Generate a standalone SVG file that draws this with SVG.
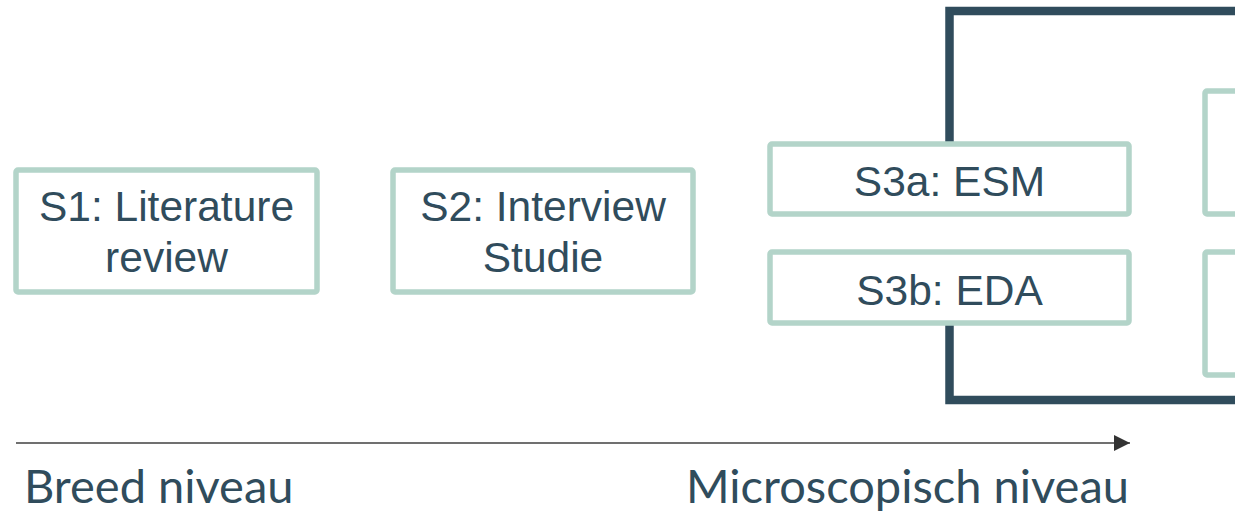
<svg xmlns="http://www.w3.org/2000/svg" width="1235" height="516" viewBox="0 0 1235 516">
  <style>
    .box { fill: #ffffff; stroke: #b3d4c9; stroke-width: 5.5; }
    .frame { fill: none; stroke: #304c5c; stroke-width: 8.5; }
    .lbl { font-family: "Liberation Sans", Arial, sans-serif; font-size: 42.5px; fill: #304c5c; text-anchor: middle; }
    .axis { font-family: Lato, "Open Sans", sans-serif; font-size: 47px; fill: #304c5c; }
  </style>
  <defs>
    <marker id="arrow" viewBox="0 0 10 10" refX="10" refY="5" markerWidth="16" markerHeight="16" markerUnits="userSpaceOnUse" orient="auto">
      <path d="M0,0 L10,5 L0,10 Z" fill="#333333"/>
    </marker>
  </defs>
  <g id="connectors">
    <path class="frame" d="M949.5,144 V11 H1270 M949.5,323 V400 H1270"/>
    <line x1="16" y1="443" x2="1130" y2="443" stroke="#404040" stroke-width="1.5" marker-end="url(#arrow)"/>
  </g>
  <g id="s1">
    <rect class="box" x="16" y="170" width="301" height="122" rx="2"/>
    <text class="lbl" x="166.5" y="221">S1: Literature</text>
    <text class="lbl" x="166.5" y="272">review</text>
  </g>
  <g id="s2">
    <rect class="box" x="393" y="170" width="300" height="122" rx="2"/>
    <text class="lbl" x="543" y="221">S2: Interview</text>
    <text class="lbl" x="543" y="272">Studie</text>
  </g>
  <g id="s3a">
    <rect class="box" x="770" y="144" width="359" height="70" rx="2"/>
    <text class="lbl" x="949.5" y="196">S3a: ESM</text>
  </g>
  <g id="s3b">
    <rect class="box" x="770" y="252" width="359" height="71" rx="2"/>
    <text class="lbl" x="949.5" y="305">S3b: EDA</text>
  </g>
  <g id="s4a">
    <rect class="box" x="1205" y="91" width="100" height="123" rx="2"/>
  </g>
  <g id="s4b">
    <rect class="box" x="1205" y="252" width="100" height="123" rx="2"/>
  </g>
  <text class="axis" x="24" y="503">Breed niveau</text>
  <text class="axis" x="686" y="503">Microscopisch niveau</text>
</svg>
